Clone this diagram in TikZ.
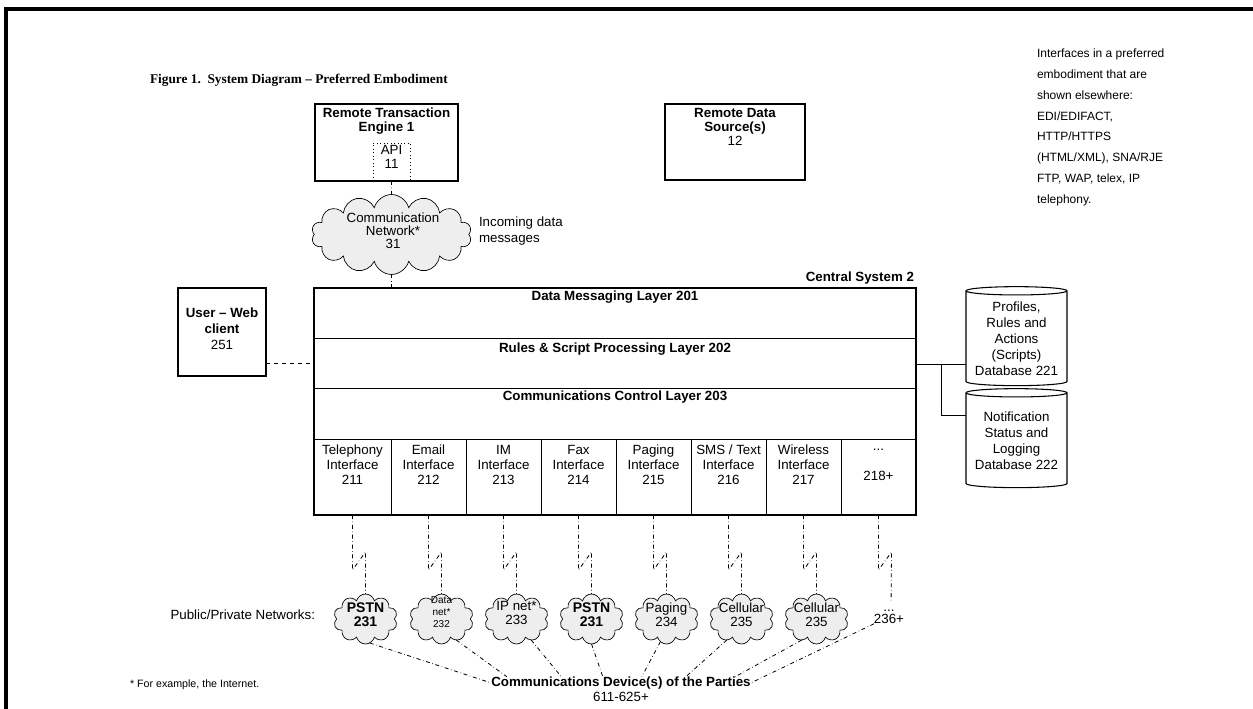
\documentclass[tikz,border=0pt]{standalone}
\usepackage{fontspec}
\setmainfont{Liberation Sans}
\newfontfamily\serifb{Liberation Serif}
\usetikzlibrary{shapes.geometric,shapes.symbols,calc}
\begin{document}
\begin{tikzpicture}[x=0.75pt,y=-0.75pt,
  every node/.style={inner sep=0pt, outer sep=0pt},
  thinline/.style={line width=0.6pt},
  box/.style={draw, line width=0.8pt},
  lbl/.style={font=\fontsize{10}{11}\selectfont, align=center},
  blbl/.style={font=\bfseries\fontsize{10}{11}\selectfont, align=center},
  netcloud/.style={cloud, cloud puffs=10, aspect=1.25, draw, line width=0.5pt, fill=gray!13,
    minimum width=64*0.75pt, minimum height=50*0.75pt},
  dd/.style={dash dot, line width=0.6pt},
  dbase/.style={cylinder, shape border rotate=90, aspect=0.1, draw, line width=0.8pt,
    minimum width=101*0.75pt, minimum height=99*0.75pt, align=center,
    font=\fontsize{10}{12}\selectfont},
]
\useasboundingbox (0,0) rectangle (1253,709);
% frame
\draw[line width=2.4pt] (4,9) -- (1253,9);
\draw[line width=2.4pt] (6,9) -- (6,709);
% title
\node[anchor=west, font=\serifb\bfseries\fontsize{10}{11}\selectfont] (title) at (150,80)
  {Figure 1.\ \ System Diagram – Preferred Embodiment};
% remote transaction engine
\node[box, minimum width=143*0.75pt, minimum height=77*0.75pt] (rte) at (386.5,142.5) {};
\node[blbl, font=\bfseries\fontsize{10}{10.5}\selectfont, anchor=north] (rtet) at (386.5,108) {Remote Transaction\\Engine 1};
\node[draw, dotted, line width=0.6pt, minimum width=37*0.75pt, minimum height=38*0.75pt] (api) at (391.5,162) {};
\node[lbl, font=\fontsize{10}{10}\selectfont] (apit) at (391.5,157) {API\\11};
% remote data source
\node[box, minimum width=140*0.75pt, minimum height=76*0.75pt] (rds) at (735,142) {};
\node[lbl, font=\fontsize{10}{10.5}\selectfont, anchor=north] (rdst) at (735,108) {\textbf{Remote Data}\\\textbf{Source(s)}\\12};
% right note
\node[anchor=north west, align=left, font=\fontsize{9}{15.6}\selectfont] (note) at (1037,49)
  {Interfaces in a preferred\\embodiment that are\\shown elsewhere:\\EDI/EDIFACT,\\HTTP/HTTPS\\(HTML/XML), SNA/RJE\\FTP, WAP, telex, IP\\telephony.};
% communication network
\node[netcloud, cloud puffs=14, aspect=1.9, minimum width=160*0.75pt, minimum height=80*0.75pt] (cn) at (391.5,234.5) {};
\node[lbl, font=\fontsize{10}{9.75}\selectfont] (cnt) at (393,231) {Communication\\Network*\\31};
\node[lbl, anchor=west, align=left, font=\fontsize{10}{12}\selectfont] (inc) at (479,231) {Incoming data\\messages};
% central system
\node[blbl, anchor=base east] (cslab) at (914,282) {Central System 2};
\draw[thinline] (314,338) -- (916,338);
\draw[thinline] (314,388) -- (916,388);
\node[blbl] (l1) at (615,297) {Data Messaging Layer 201};
\node[blbl] (l2) at (615,349) {Rules \& Script Processing Layer 202};
\node[blbl] (l3) at (615,397) {Communications Control Layer 203};
\foreach \n/\l/\r/\t in {1/314/391/{Telephony\\Interface\\211},2/391/466/{Email\\Interface\\212},
  3/466/541/{IM\\Interface\\213},4/541/616/{Fax\\Interface\\214},5/616/691/{Paging\\Interface\\215},
  6/691/766/{SMS / Text\\Interface\\216},7/766/841/{Wireless\\Interface\\217},8/841/916/{...\\\mbox{}\\218+}}{
  \node[draw, thinline, minimum width={(\r-\l)*0.75pt}, minimum height=76*0.75pt] (i\n) at ({(\l+\r)/2},477) {};
  \node[lbl, font=\fontsize{10}{11.25}\selectfont] (it\n) at ({(\l+\r)/2},465) {\t};
}
\node[draw, line width=2.2pt, minimum width=602*0.75pt, minimum height=227*0.75pt] (cs) at (615,401.5) {};
% user web client
\node[box, minimum width=88*0.75pt, minimum height=88*0.75pt] (ub) at (222,332) {};
\node[lbl, font=\fontsize{10}{12}\selectfont] (ubt) at (222,329) {\textbf{User – Web}\\\textbf{client}\\251};
\coordinate (ulink) at (0,363);
\draw[dashed, line width=0.7pt] (ub.east |- ulink) -- (cs.west |- ulink);
% top connectors
\draw[dd] (api.south) -- (cn.north);
\draw[dd] (cn.south) -- (cn.south |- cs.north);
% databases
\node[dbase] (db1) at (1016.5,338.5) {Profiles,\\Rules and\\Actions\\(Scripts)\\Database 221};
\node[dbase] (db2) at (1016.5,440.5) {Notification\\Status and\\Logging\\Database 222};
\coordinate (j1) at (941,364);
\coordinate (j2) at (941,415);
\draw[thinline] (cs.east |- j1) -- (db1.west |- j1);
\draw[thinline] (j1) -- (j2) -- (db2.west |- j2);
% networks
\node[netcloud] (n1) at (365.5,619) {};
\node[blbl, font=\bfseries\fontsize{10.5}{10.5}\selectfont] (n1t) at (365.5,615) {PSTN\\231};
\node[netcloud] (n2) at (441.5,619) {};
\node[lbl, font=\fontsize{7.5}{9}\selectfont] (n2t) at (441.5,612) {Data\\net*\\232};
\node[netcloud] (n3) at (516.5,619) {};
\node[lbl, font=\fontsize{10}{10.5}\selectfont] (n3t) at (516.5,613) {IP net*\\233};
\node[netcloud] (n4) at (591.5,619) {};
\node[blbl, font=\bfseries\fontsize{10.5}{10.5}\selectfont] (n4t) at (591.5,615) {PSTN\\231};
\node[netcloud] (n5) at (666.5,619) {};
\node[lbl, font=\fontsize{10}{10.5}\selectfont] (n5t) at (666.5,615) {Paging\\234};
\node[netcloud] (n6) at (741.5,619) {};
\node[lbl, font=\fontsize{10}{10.5}\selectfont] (n6t) at (741.5,615) {Cellular\\235};
\node[netcloud] (n7) at (816.5,619) {};
\node[lbl, font=\fontsize{10}{10.5}\selectfont] (n7t) at (816.5,615) {Cellular\\235};
\node[lbl, font=\fontsize{10}{9}\selectfont] (n8) at (889,617) {...\\236+};
\foreach \n in {1,...,7}{
  \draw[dd] (i\n.south) -- ++(0,55) -- ++(13,-18) -- (n\n.north);
}
\draw[dd, shorten >=7pt] (i8.south) -- ++(0,55) -- ++(13,-18) -- (n8.north -| 891,0);
% parties
\node[blbl] (cd) at (621,683) {Communications Device(s) of the Parties};
\node[lbl] (cdn) at (621,697) {611-625+};
\draw[dd] (n1.-80) -- (cd.west);
\draw[dd] (n2.-55) -- ($(cd.north west)!0.06!(cd.north east)$);
\draw[dd] (n3.-55) -- ($(cd.north west)!0.27!(cd.north east)$);
\draw[dd] (n4.-90) -- ($(cd.north west)!0.43!(cd.north east)$);
\draw[dd] (n5.-105) -- ($(cd.north west)!0.58!(cd.north east)$);
\draw[dd] (n6.-125) -- ($(cd.north west)!0.75!(cd.north east)$);
\draw[dd] (n7.-125) -- ($(cd.north west)!0.94!(cd.north east)$);
\draw[dd] (n8.south west) -- (cd.east);
% left labels
\node[lbl, anchor=east] (ppn) at (315,615) {Public/Private Networks:};
\node[anchor=west, font=\fontsize{8}{10}\selectfont] (fn) at (130,685) {* For example, the Internet.};
\end{tikzpicture}
\end{document}
